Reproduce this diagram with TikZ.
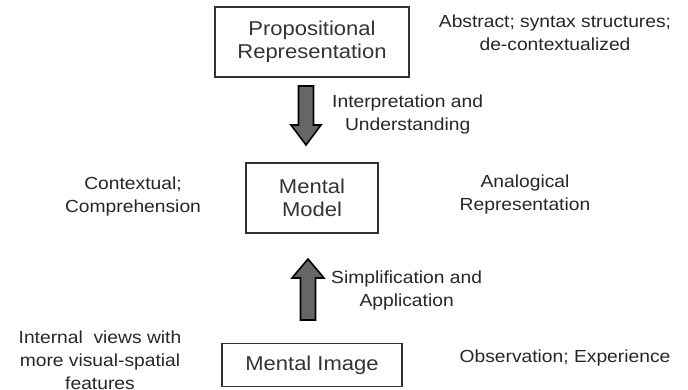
\documentclass[tikz,border=0pt]{standalone}
\usepackage{fontspec}
\setmainfont{Liberation Sans}[FakeStretch=1.1]
\usetikzlibrary{calc}
\begin{document}
\begin{tikzpicture}[x=1pt,y=-1pt,
  box/.style={draw=black!80,line width=1.4pt,align=center,inner sep=0pt,
    font=\fontsize{20}{23}\selectfont,text=black!80},
  note/.style={align=center,inner sep=0pt,font=\fontsize{17.5}{23}\selectfont,text=black!85},
  blockarrow/.style={draw=black,fill=black!60,line width=1.6pt,line join=miter}]
\useasboundingbox (0,0) rectangle (688,389);
% the three levels of representation
\node[box,minimum width=194pt,minimum height=70pt] (prop) at (312,42) {Propositional\\Representation};
\node[box,minimum width=132pt,minimum height=70pt] (model) at (312,198) {Mental\\Model};
\node[box,minimum width=180pt,minimum height=43pt] (image) at (312,365) {Mental Image};
% block arrows between the levels: tail and tip coordinates
\coordinate (dtail) at (306,86);
\coordinate (dtip) at (306,145);
\coordinate (utail) at (308,320);
\coordinate (utip) at (308,259);
\draw[blockarrow] ($(dtail)+(-7.5,0)$) -- ($(dtail)+(7.5,0)$) -- ($(dtip)+(7.5,-20)$)
  -- ($(dtip)+(15,-20)$) -- (dtip) -- ($(dtip)+(-15,-20)$) -- ($(dtip)+(-7.5,-20)$) -- cycle;
\draw[blockarrow] ($(utail)+(-7.5,0)$) -- ($(utail)+(7.5,0)$) -- ($(utip)+(7.5,19)$)
  -- ($(utip)+(16,19)$) -- (utip) -- ($(utip)+(-16,19)$) -- ($(utip)+(-7.5,19)$) -- cycle;
\node[note,anchor=west] (interp) at (332,114) {Interpretation and\\Understanding};
\node[note,anchor=west] (simpl) at (331,290) {Simplification and\\Application};
% side descriptions
\node[note] (abstract) at (555,33) {Abstract; syntax structures;\\de-contextualized};
\node[note] (context) at (133,196) {Contextual;\\Comprehension};
\node[note] (analog) at (525,194) {Analogical\\Representation};
\node[note] (internal) at (100,360) {Internal\ \ views with\\more visual-spatial\\features};
\node[note] (observ) at (565,358) {Observation; Experience};
\end{tikzpicture}
\end{document}
